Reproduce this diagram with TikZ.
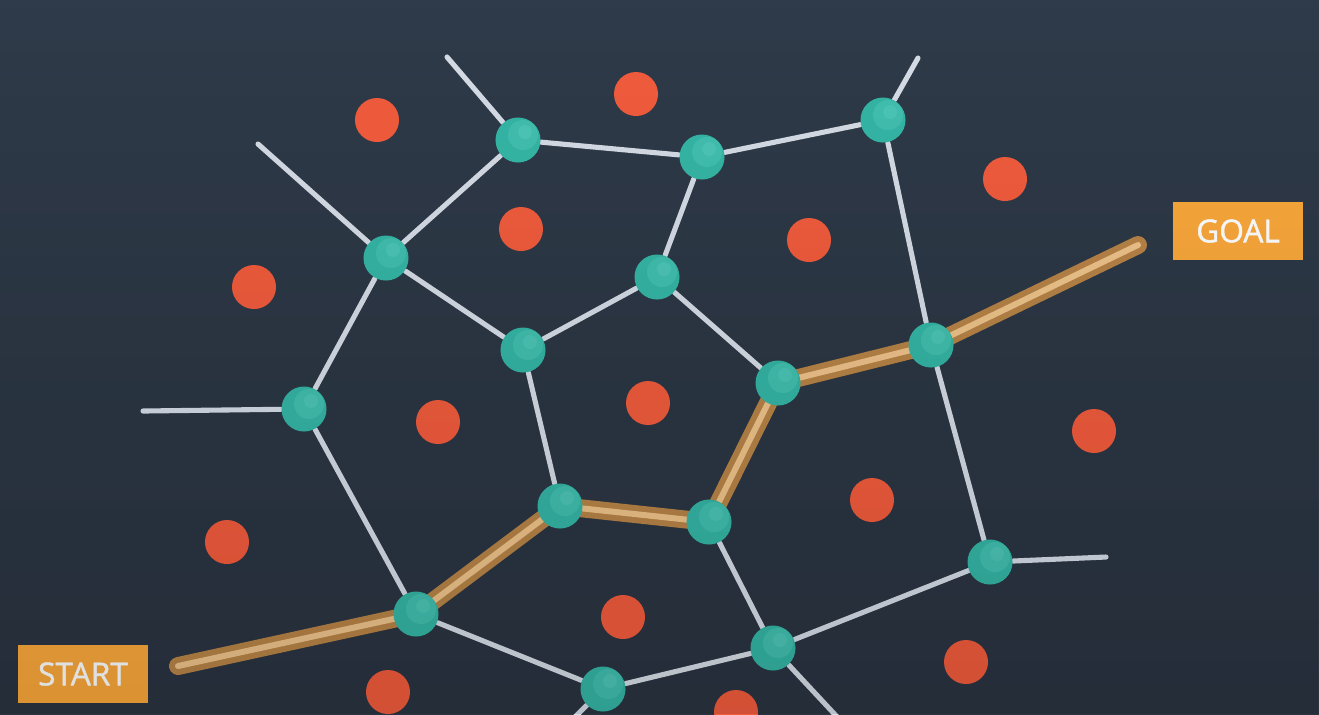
\documentclass[tikz,border=0pt]{standalone}
\usepackage{fontspec}
\setsansfont{Open Sans}
\newfontfamily\labelfont[FakeBold=1.4]{Open Sans}
\usetikzlibrary{
    positioning,
    calc,
    backgrounds,
    fadings,
}

\definecolor{bgtop}{HTML}{2F3B4A}
\definecolor{bgbot}{HTML}{2A3441}
\definecolor{edgegray}{HTML}{D6DDE7}
\definecolor{siteRed}{HTML}{F25C3D}
\definecolor{vtxTeal}{HTML}{35B6A6}
\definecolor{vtxLight}{HTML}{42C0B0}
\definecolor{vtxShine}{HTML}{4CC6B7}
\definecolor{pathOut}{HTML}{B88447}
\definecolor{pathIn}{HTML}{EFC48B}
\definecolor{goalOrange}{HTML}{FAA83B}

\pgfdeclarelayer{links}
\pgfsetlayers{background,links,main}

\begin{document}
\begin{tikzpicture}[
    x=0.01cm, y=-0.01cm,
    site/.style={circle, fill=siteRed, minimum size=0.44cm, inner sep=0pt},
    vertex/.style={circle, fill=vtxTeal, minimum size=0.45cm, inner sep=0pt,
        path picture={
            \fill[vtxLight] ([xshift=0.05cm,yshift=0.05cm]path picture bounding box.center) circle[radius=0.15cm];
            \fill[vtxShine] ([xshift=0.07cm,yshift=0.08cm]path picture bounding box.center) circle[radius=0.07cm];
        }},
    link/.style={draw=edgegray, line width=1.45pt, line cap=round},
    route/.style={draw=pathOut, line width=5.1pt, line cap=round, line join=round},
    routein/.style={draw=pathIn, line width=1.7pt, line cap=round, line join=round},
    label/.style={fill=goalOrange, text=white, font=\labelfont\fontsize{9}{10}\selectfont,
        minimum width=1.30cm, minimum height=0.58cm, inner sep=0pt},
]

% background
\begin{scope}[on background layer]
\shade[top color=bgtop, bottom color=bgbot] (0,0) rectangle (1319,714);
\end{scope}
\useasboundingbox (0,0) rectangle (1319,714);

% sites
\node[site] (s1) at (377,120) {};
\node[site] (s2) at (636,94) {};
\node[site] (s3) at (1005,179) {};
\node[site] (s4) at (521,229) {};
\node[site] (s5) at (809,240) {};
\node[site] (s6) at (254,287) {};
\node[site] (s7) at (438,422) {};
\node[site] (s8) at (648,403) {};
\node[site] (s9) at (1094,431) {};
\node[site] (s10) at (872,500) {};
\node[site] (s11) at (227,542) {};
\node[site] (s12) at (623,617) {};
\node[site] (s13) at (966,662) {};
\node[site] (s14) at (388,692) {};
\node[site] (s15) at (736,712) {};

% voronoi vertices
\node[vertex] (v1) at (518,140) {};
\node[vertex] (v2) at (702,157) {};
\node[vertex] (v3) at (883,120) {};
\node[vertex] (v4) at (386,258) {};
\node[vertex] (v5) at (657,277) {};
\node[vertex] (v6) at (523,350) {};
\node[vertex] (v7) at (778,383) {};
\node[vertex] (v8) at (931,345) {};
\node[vertex] (v9) at (304,409) {};
\node[vertex] (v10) at (560,506) {};
\node[vertex] (v11) at (709,522) {};
\node[vertex] (v12) at (416,614) {};
\node[vertex] (v13) at (990,562) {};
\node[vertex] (v14) at (773,648) {};
\node[vertex] (v15) at (603,689) {};

% open ends
\coordinate (e1) at (447,57);
\coordinate (e2) at (258,144);
\coordinate (e3) at (918,58);
\coordinate (e4) at (143,411);
\coordinate (e5) at (1106,557);
\coordinate (e6) at (572,720);
\coordinate (e7) at (840,720);
\coordinate (startend) at (178,666);
\coordinate (goalend) at (1138,245);

\node[label] (start) at (83,674) {START};
\node[label] (goal) at (1238,231) {GOAL};

\begin{pgfonlayer}{links}
\draw[link] (e1) -- (v1);
\draw[link] (e2) -- (v4);
\draw[link] (e3) -- (v3);
\draw[link] (e4) -- (v9);
\draw[link] (e5) -- (v13);
\draw[link] (e6) -- (v15);
\draw[link] (e7) -- (v14);
\draw[link] (v1) -- (v2);
\draw[link] (v2) -- (v3);
\draw[link] (v1) -- (v4);
\draw[link] (v2) -- (v5);
\draw[link] (v3) -- (v8);
\draw[link] (v4) -- (v6);
\draw[link] (v4) -- (v9);
\draw[link] (v5) -- (v6);
\draw[link] (v5) -- (v7);
\draw[link] (v6) -- (v10);
\draw[link] (v9) -- (v12);
\draw[link] (v8) -- (v13);
\draw[link] (v11) -- (v14);
\draw[link] (v12) -- (v15);
\draw[link] (v15) -- (v14);
\draw[link] (v14) -- (v13);

% path from start to goal
\draw[route] (startend) -- (v12.center) -- (v10.center) -- (v11.center) -- (v7.center) -- (v8.center) -- (goalend);
\draw[routein] (startend) -- (v12.center) -- (v10.center) -- (v11.center) -- (v7.center) -- (v8.center) -- (goalend);
\end{pgfonlayer}

% darker towards the bottom
\fill[black, opacity=0.13, path fading=north] (0,0) rectangle (1319,714);

\end{tikzpicture}
\end{document}
